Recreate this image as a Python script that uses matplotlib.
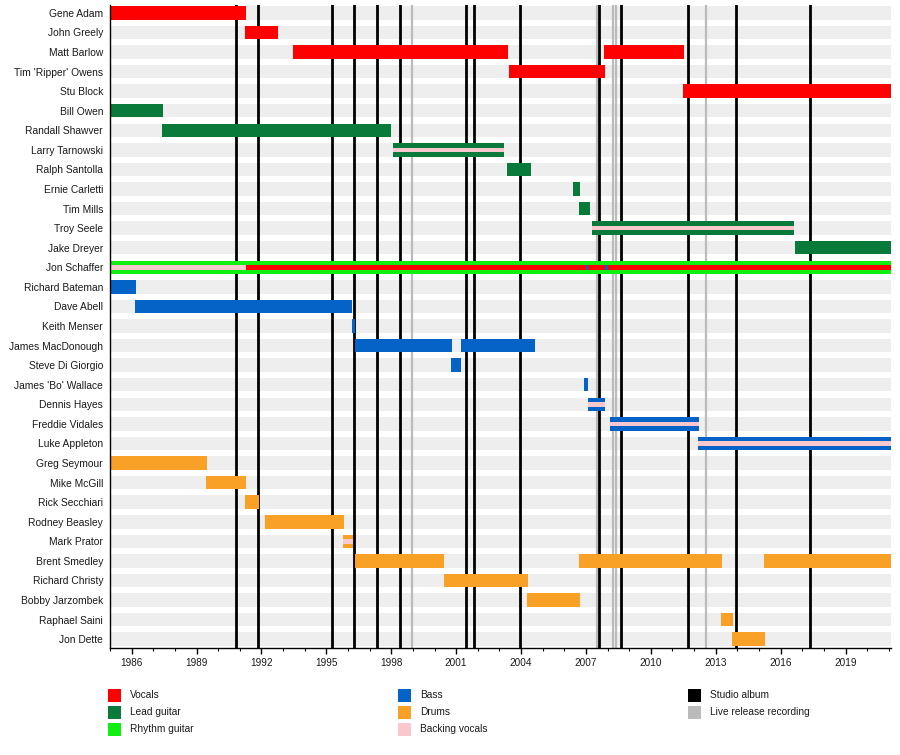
import matplotlib
matplotlib.use('Agg')
import matplotlib.pyplot as plt
from matplotlib.patches import Rectangle
from matplotlib.ticker import MultipleLocator, FormatStrFormatter

plt.rcParams['font.family'] = ['Liberation Sans', 'DejaVu Sans']

START = 1985.0
END = 2021.1

members = ["Gene Adam", "John Greely", "Matt Barlow", "Tim 'Ripper' Owens", "Stu Block",
           "Bill Owen", "Randall Shawver", "Larry Tarnowski", "Ralph Santolla",
           "Ernie Carletti", "Tim Mills", "Troy Seele", "Jake Dreyer", "Jon Schaffer",
           "Richard Bateman", "Dave Abell", "Keith Menser", "James MacDonough",
           "Steve Di Giorgio", "James 'Bo' Wallace", "Dennis Hayes", "Freddie Vidales",
           "Luke Appleton", "Greg Seymour", "Mike McGill", "Rick Secchiari",
           "Rodney Beasley", "Mark Prator", "Brent Smedley", "Richard Christy",
           "Bobby Jarzombek", "Raphael Saini", "Jon Dette"]

vocals = [("Gene Adam", 1985.0, 1991.27), ("John Greely", 1991.24, 1992.76),
          ("Matt Barlow", 1993.45, 2003.41), ("Matt Barlow", 2007.84, 2011.52),
          ("Tim 'Ripper' Owens", 2003.46, 2007.89), ("Stu Block", 2011.49, END)]
lead_guitar = [("Bill Owen", 1985.0, 1987.44), ("Randall Shawver", 1987.40, 1998.01),
               ("Larry Tarnowski", 1998.06, 2003.23), ("Ralph Santolla", 2003.37, 2004.47),
               ("Ernie Carletti", 2006.41, 2006.74), ("Tim Mills", 2006.69, 2007.20),
               ("Troy Seele", 2007.29, 2016.60), ("Jake Dreyer", 2016.65, END)]
rhythm_guitar = [("Jon Schaffer", 1985.0, END)]
bass = [("Richard Bateman", 1985.0, 1986.20), ("Dave Abell", 1986.16, 1996.17),
        ("Keith Menser", 1996.17, 1996.31), ("James MacDonough", 1996.31, 2000.79),
        ("James MacDonough", 2001.24, 2004.65), ("Steve Di Giorgio", 2000.74, 2001.24),
        ("James 'Bo' Wallace", 2006.92, 2007.10), ("Dennis Hayes", 2007.10, 2007.89),
        ("Freddie Vidales", 2008.12, 2012.23), ("Luke Appleton", 2012.18, END)]
drums = [("Greg Seymour", 1985.0, 1989.47), ("Mike McGill", 1989.43, 1991.27),
         ("Rick Secchiari", 1991.24, 1991.88), ("Rodney Beasley", 1992.15, 1995.80),
         ("Mark Prator", 1995.75, 1996.21), ("Brent Smedley", 1996.31, 2000.42),
         ("Brent Smedley", 2006.69, 2013.29), ("Brent Smedley", 2015.23, END),
         ("Richard Christy", 2000.42, 2004.33), ("Bobby Jarzombek", 2004.29, 2006.74),
         ("Raphael Saini", 2013.24, 2013.80), ("Jon Dette", 2013.75, 2015.28)]

# secondary roles, drawn as a stripe through the middle of a bar
backing_vocals = [("Larry Tarnowski", 1998.06, 2003.23), ("Troy Seele", 2007.29, 2016.60),
                  ("Dennis Hayes", 2007.10, 2007.89), ("Freddie Vidales", 2008.12, 2012.23),
                  ("Luke Appleton", 2012.18, END), ("Mark Prator", 1995.75, 1996.21),
                  ("Jon Schaffer", 1985.0, 1991.27)]
second_vocals = [("Jon Schaffer", 1991.27, END)]
second_bass = [("Jon Schaffer", 2006.98, 2007.08), ("Jon Schaffer", 2007.90, 2008.02)]

studio_albums = [1990.82, 1991.82, 1995.24, 1996.30, 1997.36, 1998.42, 2001.44,
                 2001.84, 2003.96, 2007.59, 2008.62, 2011.71, 2013.93, 2017.34]
live_recordings = [1998.97, 2007.50, 2008.25, 2008.41, 2012.54]

C_VOC = '#ff0000'
C_LEAD = '#0a7a3a'
C_RHY = '#11ee11'
C_BASS = '#0563c8'
C_DRUM = '#f9a027'
C_BV = '#f8c8cc'
C_STUDIO = '#000000'
C_LIVE = '#bbbbbb'
C_BAND = '#eeeeee'

W, H = 900, 755
fig = plt.figure(figsize=(W / 100, H / 100), dpi=100)
ax = fig.add_axes([110 / W, 1 - 648 / H, (891 - 110) / W, (648 - 5) / H])

idx = {m: i for i, m in enumerate(members)}
BH = 0.69

for i in range(len(members)):
    ax.barh(i, END - START, left=START, height=BH, color=C_BAND, zorder=0, linewidth=0)

for x in live_recordings:
    ax.axvline(x, color=C_LIVE, lw=1.6, zorder=1)
for x in studio_albums:
    ax.axvline(x, color=C_STUDIO, lw=2.0, zorder=1)

def draw(segs, color, h, z):
    for m, s, e in segs:
        ax.barh(idx[m], e - s, left=s, height=h, color=color, zorder=z, linewidth=0)

draw(vocals, C_VOC, BH, 2)
draw(lead_guitar, C_LEAD, BH, 2)
draw(rhythm_guitar, C_RHY, BH, 2)
draw(bass, C_BASS, BH, 2)
draw(drums, C_DRUM, BH, 2)
draw(backing_vocals, C_BV, BH / 3, 3)
draw(second_vocals, C_VOC, BH / 3, 3)
draw(second_bass, C_BASS, BH / 3, 4)

ax.set_xlim(START, END)
ax.set_ylim(len(members) - 0.55, -0.40)
ax.set_yticks(range(len(members)))
ax.set_yticklabels(members, fontsize=7.4, color='#1a1a1a')
ax.tick_params(axis='y', length=0, pad=5)
ax.xaxis.set_major_locator(MultipleLocator(3))
ax.xaxis.set_minor_locator(MultipleLocator(1))
ax.xaxis.set_major_formatter(FormatStrFormatter('%d'))
ax.tick_params(axis='x', which='major', length=4, width=1, labelsize=7.2, pad=3, labelcolor='#1a1a1a')
ax.tick_params(axis='x', which='minor', length=2, width=0.8)
for sp in ['top', 'right']:
    ax.spines[sp].set_visible(False)
for sp in ['left', 'bottom']:
    ax.spines[sp].set_linewidth(1)
    ax.spines[sp].set_color('black')
    ax.spines[sp].set_zorder(5)

legend_cols = [
    (108, [("Vocals", C_VOC), ("Lead guitar", C_LEAD), ("Rhythm guitar", C_RHY)]),
    (398, [("Bass", C_BASS), ("Drums", C_DRUM), ("Backing vocals", C_BV)]),
    (688, [("Studio album", C_STUDIO), ("Live release recording", C_LIVE)]),
]
row_y = [695, 712, 729]
SQ = 13
for x0, items in legend_cols:
    for (label, col), yc in zip(items, row_y):
        fig.add_artist(Rectangle((x0 / W, 1 - (yc + SQ / 2) / H), SQ / W, SQ / H,
                                 transform=fig.transFigure, facecolor=col, edgecolor='none'))
        fig.text((x0 + 22) / W, 1 - yc / H, label, fontsize=7.3, va='center', ha='left',
                 color='#1a1a1a')

fig.savefig('out.png', dpi=100)
